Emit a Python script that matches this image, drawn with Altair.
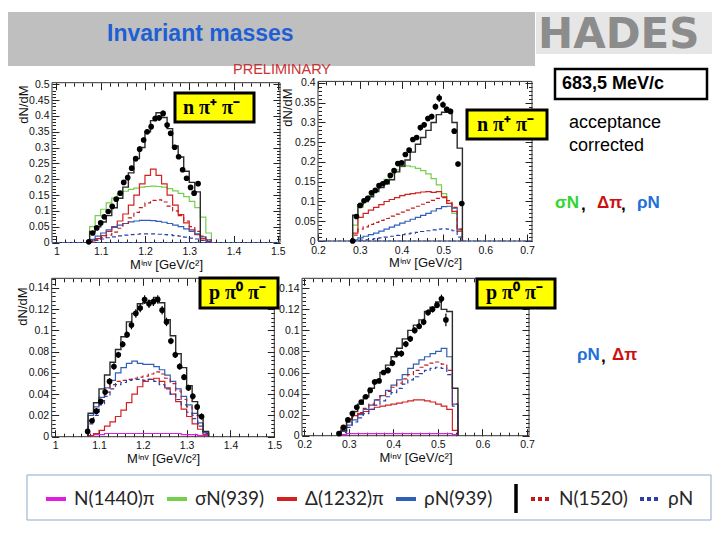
import altair as alt
import pandas as pd

W, H = 704, 524
F = "Liberation Sans"

# ---------------- series names / colours ----------------
SOLID = ["N(1440)π", "σN(939)", "Δ(1232)π", "ρN(939)"]
SOLID_COLORS = ["#e01ee0", "#74cf4c", "#d42020", "#2f5fb8"]
DASHED = ["N(1520)", "ρN"]
DASHED_COLORS = ["#c41a1a", "#2a3fa8"]

# ---------------- panel 1 : n pi+ pi-, M(n pi) ----------------
p1_start, p1_width = 1.075, 0.0125
p1_sigma = [0.050, 0.085, 0.105, 0.125, 0.140, 0.152, 0.162, 0.168, 0.172, 0.175, 0.177,
            0.178, 0.177, 0.175, 0.170, 0.163, 0.155, 0.145, 0.130, 0.110, 0.080, 0.030]
p1_delta = [0.005, 0.012, 0.022, 0.035, 0.050, 0.068, 0.090, 0.118, 0.150, 0.185, 0.212,
            0.232, 0.212, 0.185, 0.150, 0.118, 0.088, 0.062, 0.040, 0.025, 0.012, 0.004]
p1_n1520 = [0.003, 0.008, 0.015, 0.023, 0.033, 0.045, 0.060, 0.078, 0.095, 0.110, 0.125,
            0.133, 0.135, 0.128, 0.115, 0.100, 0.085, 0.068, 0.050, 0.035, 0.020, 0.008]
p1_rho939 = [0.010, 0.020, 0.030, 0.040, 0.048, 0.055, 0.060, 0.065, 0.068, 0.070, 0.070,
             0.069, 0.067, 0.064, 0.060, 0.055, 0.050, 0.043, 0.035, 0.027, 0.018, 0.008]
p1_rho = [0.003, 0.007, 0.011, 0.015, 0.018, 0.021, 0.023, 0.025, 0.026, 0.027, 0.027,
          0.027, 0.026, 0.025, 0.024, 0.022, 0.020, 0.017, 0.014, 0.011, 0.007, 0.003]
p1_total = [0.035, 0.050, 0.065, 0.085, 0.110, 0.140, 0.175, 0.220, 0.265, 0.300, 0.350,
            0.385, 0.410, 0.395, 0.360, 0.305, 0.270, 0.225, 0.190, 0.160]
p1_x = [1.073, 1.082, 1.091, 1.100, 1.108, 1.117, 1.126, 1.135, 1.144, 1.152, 1.161, 1.170,
        1.179, 1.188, 1.197, 1.205, 1.214, 1.223, 1.232, 1.241, 1.250, 1.258, 1.267, 1.276,
        1.285, 1.294, 1.303, 1.311, 1.320]
p1_y = [0.002, 0.030, 0.046, 0.062, 0.081, 0.098, 0.114, 0.137, 0.156, 0.190, 0.205, 0.235,
        0.265, 0.295, 0.324, 0.350, 0.366, 0.392, 0.394, 0.408, 0.371, 0.345, 0.301, 0.271,
        0.230, 0.203, 0.174, 0.156, 0.186]
p1_err = [0.002, 0.004, 0.004, 0.005, 0.005, 0.005, 0.006, 0.006, 0.006, 0.007, 0.007, 0.007,
          0.008, 0.008, 0.008, 0.008, 0.009, 0.009, 0.009, 0.009, 0.008, 0.008, 0.008, 0.007,
          0.007, 0.007, 0.006, 0.006, 0.007]

# ---------------- panel 2 : n pi+ pi-, M(pi+ pi-) ----------------
p2_start, p2_width = 0.283, 0.0125
p2_sigma = [0.040, 0.085, 0.100, 0.115, 0.130, 0.143, 0.156, 0.168, 0.180, 0.188, 0.190,
            0.188, 0.184, 0.178, 0.170, 0.158, 0.142, 0.120, 0.095, 0.070, 0.025]
p2_delta = [0.020, 0.060, 0.070, 0.078, 0.085, 0.092, 0.100, 0.105, 0.110, 0.115, 0.118,
            0.120, 0.122, 0.124, 0.125, 0.123, 0.125, 0.112, 0.095, 0.075, 0.025]
p2_n1520 = [0.015, 0.030, 0.036, 0.042, 0.047, 0.052, 0.057, 0.063, 0.068, 0.073, 0.078,
            0.083, 0.088, 0.093, 0.098, 0.103, 0.108, 0.110, 0.102, 0.085, 0.030]
p2_rho939 = [0.003, 0.008, 0.012, 0.016, 0.020, 0.025, 0.030, 0.035, 0.040, 0.045, 0.050,
             0.055, 0.060, 0.065, 0.070, 0.076, 0.082, 0.087, 0.088, 0.083, 0.030]
p2_rho = [0.001, 0.002, 0.003, 0.004, 0.006, 0.008, 0.010, 0.012, 0.014, 0.016, 0.018,
          0.020, 0.022, 0.024, 0.026, 0.028, 0.030, 0.031, 0.030, 0.026, 0.010]
p2_total = [0.065, 0.092, 0.100, 0.112, 0.125, 0.135, 0.145, 0.155, 0.175, 0.190, 0.205,
            0.225, 0.245, 0.262, 0.280, 0.300, 0.320, 0.326, 0.326, 0.300, 0.235]
p2_x = [0.283, 0.292, 0.301, 0.310, 0.319, 0.328, 0.337, 0.346, 0.355, 0.364, 0.373, 0.382,
        0.391, 0.400, 0.409, 0.418, 0.427, 0.436, 0.445, 0.454, 0.463, 0.472, 0.481, 0.490,
        0.499, 0.508, 0.517, 0.526, 0.535, 0.544]
p2_y = [0.000, 0.062, 0.090, 0.102, 0.108, 0.122, 0.128, 0.140, 0.145, 0.150, 0.166, 0.178,
        0.196, 0.198, 0.219, 0.230, 0.257, 0.262, 0.287, 0.294, 0.310, 0.315, 0.340, 0.362,
        0.345, 0.333, 0.328, 0.278, 0.195, 0.095]
p2_err = [0.002, 0.004, 0.005, 0.005, 0.005, 0.005, 0.005, 0.005, 0.005, 0.005, 0.005, 0.006,
          0.006, 0.006, 0.006, 0.006, 0.006, 0.006, 0.007, 0.007, 0.007, 0.007, 0.008, 0.010,
          0.008, 0.007, 0.007, 0.007, 0.006, 0.006]

# ---------------- panel 3 : p pi0 pi-, M(p pi0) ----------------
p3_start, p3_width = 1.075, 0.0125
p3_n1440 = [0.001, 0.002, 0.002, 0.003, 0.003, 0.003, 0.003, 0.003, 0.003, 0.003, 0.003,
            0.003, 0.003, 0.003, 0.003, 0.003, 0.003, 0.002, 0.002, 0.002, 0.001, 0.001]
p3_delta = [0.001, 0.003, 0.006, 0.010, 0.014, 0.019, 0.025, 0.032, 0.040, 0.047, 0.052,
            0.054, 0.055, 0.052, 0.046, 0.040, 0.033, 0.026, 0.019, 0.012, 0.007, 0.002]
p3_rho939 = [0.020, 0.028, 0.037, 0.046, 0.053, 0.060, 0.065, 0.069, 0.071, 0.069, 0.068,
             0.068, 0.066, 0.063, 0.058, 0.052, 0.045, 0.038, 0.030, 0.022, 0.013, 0.004]
p3_n1520 = [0.015, 0.024, 0.034, 0.042, 0.049, 0.052, 0.053, 0.054, 0.055, 0.056, 0.057,
            0.059, 0.061, 0.059, 0.055, 0.050, 0.043, 0.035, 0.028, 0.020, 0.012, 0.003]
p3_rho = [0.012, 0.020, 0.030, 0.038, 0.045, 0.049, 0.051, 0.053, 0.054, 0.054, 0.053,
          0.054, 0.052, 0.049, 0.045, 0.040, 0.035, 0.030, 0.023, 0.017, 0.010, 0.003]
p3_total = [0.022, 0.032, 0.045, 0.058, 0.070, 0.082, 0.094, 0.108, 0.116, 0.125, 0.126,
            0.128, 0.131, 0.126, 0.110, 0.095, 0.078, 0.065, 0.048, 0.033, 0.020, 0.005]
p3_x = [1.074, 1.084, 1.094, 1.104, 1.114, 1.124, 1.134, 1.144, 1.154, 1.164, 1.174, 1.184,
        1.194, 1.204, 1.214, 1.224, 1.234, 1.244, 1.254, 1.264, 1.274, 1.284, 1.294, 1.304,
        1.314, 1.324, 1.334]
p3_y = [0.005, 0.015, 0.024, 0.033, 0.042, 0.052, 0.066, 0.077, 0.087, 0.096, 0.105, 0.116,
        0.121, 0.129, 0.125, 0.127, 0.129, 0.119, 0.108, 0.090, 0.077, 0.066, 0.056, 0.046,
        0.038, 0.028, 0.019]
p3_err = [0.002, 0.002, 0.003, 0.003, 0.003, 0.003, 0.003, 0.003, 0.003, 0.003, 0.004, 0.004,
          0.004, 0.004, 0.004, 0.004, 0.004, 0.004, 0.004, 0.003, 0.003, 0.003, 0.003, 0.003,
          0.003, 0.003, 0.003]

# ---------------- panel 4 : p pi0 pi-, M(pi0 pi-) ----------------
p4_start, p4_width = 0.2825, 0.0125
p4_n1440 = [0.001, 0.002, 0.002, 0.002, 0.002, 0.002, 0.002, 0.002, 0.002, 0.002, 0.002,
            0.002, 0.002, 0.002, 0.002, 0.002, 0.002, 0.002, 0.002, 0.002, 0.001]
p4_delta = [0.008, 0.016, 0.019, 0.021, 0.023, 0.025, 0.027, 0.028, 0.029, 0.030, 0.031,
            0.032, 0.033, 0.034, 0.034, 0.033, 0.032, 0.030, 0.028, 0.025, 0.005]
p4_rho939 = [0.004, 0.010, 0.015, 0.020, 0.025, 0.029, 0.034, 0.038, 0.043, 0.048, 0.053,
             0.058, 0.064, 0.068, 0.072, 0.075, 0.078, 0.080, 0.083, 0.075, 0.030]
p4_n1520 = [0.006, 0.013, 0.018, 0.022, 0.026, 0.030, 0.034, 0.038, 0.042, 0.046, 0.050,
            0.054, 0.058, 0.062, 0.065, 0.067, 0.069, 0.070, 0.068, 0.062, 0.030]
p4_rho = [0.003, 0.008, 0.013, 0.017, 0.021, 0.025, 0.029, 0.033, 0.037, 0.041, 0.045,
          0.049, 0.053, 0.056, 0.059, 0.062, 0.064, 0.065, 0.064, 0.058, 0.028]
p4_total = [0.005, 0.015, 0.023, 0.030, 0.037, 0.045, 0.053, 0.060, 0.067, 0.075, 0.083,
            0.092, 0.100, 0.105, 0.110, 0.118, 0.122, 0.127, 0.120, 0.118, 0.045]
p4_x = [0.278, 0.288, 0.298, 0.308, 0.318, 0.328, 0.338, 0.348, 0.358, 0.368, 0.378, 0.388,
        0.398, 0.408, 0.418, 0.428, 0.438, 0.448, 0.458, 0.468, 0.478, 0.488, 0.498, 0.508,
        0.518]
p4_y = [0.002, 0.008, 0.015, 0.021, 0.027, 0.032, 0.037, 0.043, 0.051, 0.052, 0.060, 0.062,
        0.069, 0.078, 0.078, 0.087, 0.092, 0.100, 0.104, 0.108, 0.117, 0.120, 0.124, 0.130,
        0.110]
p4_err = [0.001, 0.002, 0.002, 0.002, 0.002, 0.002, 0.002, 0.002, 0.002, 0.002, 0.002, 0.003,
          0.003, 0.003, 0.003, 0.003, 0.003, 0.003, 0.003, 0.003, 0.003, 0.003, 0.003, 0.004,
          0.006]

# ---------------- helpers ----------------
one = pd.DataFrame({"k": [0]})


def step_rows(vals, start, width, series):
    n = len(vals)
    rows = [{"x": start, "y": 0.0, "i": 0, "s": series}]
    for k, v in enumerate(vals):
        rows.append({"x": start + k * width, "y": v, "i": k + 1, "s": series})
    rows.append({"x": start + n * width, "y": 0.0, "i": n + 1, "s": series})
    return rows


def tick_values(lo, hi, step):
    n = int(round((hi - lo) / step))
    return [round(lo + k * step, 5) for k in range(n + 1)]


leg_common = dict(orient="none", direction="horizontal", symbolType="stroke",
                  symbolStrokeWidth=4, symbolSize=400, labelFont="Lato", labelFontSize=19,
                  labelColor="#262626", columnPadding=4, labelOffset=6, padding=0,
                  legendY=479)
leg_solid = alt.Legend(title=None, legendX=36, **leg_common)
leg_dash = alt.Legend(title=None, legendX=521, symbolDash=[4, 3], **leg_common)
color_scale = alt.Scale(domain=SOLID, range=SOLID_COLORS)
stroke_scale = alt.Scale(domain=DASHED, range=DASHED_COLORS)


def tick_axis(orient, offset, values, size):
    return alt.Axis(orient=orient, offset=offset, values=values, labels=False, domain=False,
                    grid=False, ticks=True, tickSize=size, tickColor="#222", tickWidth=1,
                    title="")


def panel(solid, dashed, total, start, width, px, py, pe, xdom, xr, ydom, yr, xmaj, ymaj,
          xminor, yminor, xtitle, ytitle, ytx, yty, zero_line):
    xs = alt.Scale(domain=xdom, range=xr, nice=False, zero=False)
    ys = alt.Scale(domain=ydom, range=yr, nice=False, zero=False)
    ax_common = dict(grid=False, domain=False, ticks=False,
                     labelFont=F, labelFontSize=10.5, labelColor="#111",
                     labelFlush=False, labelOverlap=False, titleFont=F, titleFontSize=13,
                     titleFontWeight="normal", titleColor="#111")
    xax = alt.Axis(orient="bottom", offset=yr[0] - H, values=xmaj, format=".1~f",
                   title=xtitle, titlePadding=1, labelPadding=4, **ax_common)
    if ytitle:
        yax = alt.Axis(orient="left", offset=-xr[0], values=ymaj, format=".2~f",
                       title=ytitle, titleX=ytx, titleY=yty, titleAlign="center",
                       titleBaseline="middle", titleAngle=-90, labelPadding=3, **ax_common)
    else:
        yax = alt.Axis(orient="left", offset=-xr[0], values=ymaj, format=".2~f",
                       title="", labelPadding=3, **ax_common)

    def X(f, ax=None):
        return alt.X(f, type="quantitative", scale=xs, axis=ax)

    def Y(f, ax=None):
        return alt.Y(f, type="quantitative", scale=ys, axis=ax)

    sol_rows, dash_rows = [], []
    for name, vals in solid:
        sol_rows += step_rows(vals, start, width, name)
    for name, vals in dashed:
        dash_rows += step_rows(vals, start, width, name)
    tot_df = pd.DataFrame(step_rows(total, start, width, "total"))
    pts = pd.DataFrame({"x": px, "y": py,
                        "lo": [a - b for a, b in zip(py, pe)],
                        "hi": [a + b for a, b in zip(py, pe)]})
    frame_df = pd.DataFrame({"x0": [xdom[0]], "x1": [xdom[1]], "y0": [ydom[0]], "y1": [ydom[1]]})

    layers = []
    layers.append(alt.Chart(frame_df).mark_rect(fill="white", fillOpacity=0, stroke="#333",
                                                strokeWidth=1).encode(
        x=X("x0:Q", xax), x2="x1:Q", y=Y("y0:Q", yax), y2="y1:Q"))
    # inward ROOT-style ticks on all four frame edges (major and minor)
    inward = [
        (tick_axis("top", -yr[0], xmaj, 7), tick_axis("right", xr[0] - W, ymaj, 7)),
        (tick_axis("top", -yr[0], xminor, 3.5), tick_axis("right", xr[0] - W, yminor, 3.5)),
        (tick_axis("bottom", yr[1] - H, xmaj, 7), tick_axis("left", -xr[1], ymaj, 7)),
        (tick_axis("bottom", yr[1] - H, xminor, 3.5), tick_axis("left", -xr[1], yminor, 3.5)),
    ]
    for axx, axy in inward:
        layers.append(alt.Chart(frame_df).mark_point(opacity=0, size=1).encode(
            x=X("x0:Q", axx), y=Y("y0:Q", axy)))
    if zero_line:
        layers.append(alt.Chart(frame_df).mark_rule(color="#3a5cc0", strokeDash=[3, 2],
                                                    strokeWidth=1).encode(
            x=X("x0:Q"), x2="x1:Q", y=Y("y0:Q")))
    layers.append(alt.Chart(pd.DataFrame(sol_rows)).mark_line(
        interpolate="step-after", strokeWidth=1.2).encode(
        x=X("x:Q"), y=Y("y:Q"), order="i:Q", detail="s:N",
        color=alt.Color("s:N", scale=color_scale, legend=leg_solid)))
    layers.append(alt.Chart(pd.DataFrame(dash_rows)).mark_line(
        interpolate="step-after", strokeWidth=1.2, strokeDash=[4, 3]).encode(
        x=X("x:Q"), y=Y("y:Q"), order="i:Q", detail="s:N",
        stroke=alt.Stroke("s:N", scale=stroke_scale, legend=leg_dash)))
    layers.append(alt.Chart(tot_df).mark_line(interpolate="step-after", color="#2b2b2b",
                                              strokeWidth=1.4).encode(
        x=X("x:Q"), y=Y("y:Q"), order="i:Q"))
    layers.append(alt.Chart(pts).mark_rule(color="black", strokeWidth=1.2).encode(
        x=X("x:Q"), y=Y("lo:Q"), y2="hi:Q"))
    layers.append(alt.Chart(pts).mark_circle(size=32, color="black", opacity=1).encode(
        x=X("x:Q"), y=Y("y:Q")))
    return alt.layer(*layers).resolve_axis(x="independent", y="independent")


XT = "Mⁱⁿᵛ [GeV/c²]"
X1_MAJ = tick_values(1.0, 1.5, 0.1)
X1_MIN = tick_values(1.0, 1.5, 0.02)
X2_MAJ = tick_values(0.2, 0.7, 0.1)
X2_MIN = tick_values(0.2, 0.7, 0.02)

P1 = panel([("σN(939)", p1_sigma), ("Δ(1232)π", p1_delta), ("ρN(939)", p1_rho939)],
           [("N(1520)", p1_n1520), ("ρN", p1_rho)], p1_total, p1_start, p1_width,
           p1_x, p1_y, p1_err, [0.99, 1.505], [44, 272], [0, 0.505], [234.5, 74.7],
           X1_MAJ, tick_values(0, 0.5, 0.05), X1_MIN, tick_values(0, 0.5, 0.01),
           XT, "dN/dM", -29, 96, True)
P2 = panel([("σN(939)", p2_sigma), ("Δ(1232)π", p2_delta), ("ρN(939)", p2_rho939)],
           [("N(1520)", p2_n1520), ("ρN", p2_rho)], p2_total, p2_start, p2_width,
           p2_x, p2_y, p2_err, [0.2, 0.712], [310, 524], [0, 0.404], [233, 73.4],
           X2_MAJ, tick_values(0, 0.4, 0.05), X2_MIN, tick_values(0, 0.4, 0.01),
           XT, "dN/dM", -31, 99, True)
P3 = panel([("N(1440)π", p3_n1440), ("Δ(1232)π", p3_delta), ("ρN(939)", p3_rho939)],
           [("N(1520)", p3_n1520), ("ρN", p3_rho)], p3_total, p3_start, p3_width,
           p3_x, p3_y, p3_err, [0.992, 1.5], [43.7, 266.3], [0, 0.149], [428.7, 270.3],
           X1_MAJ, tick_values(0, 0.14, 0.02), X1_MIN, tick_values(0, 0.148, 0.004),
           XT, "dN/dM", -29, 298, False)
P4 = panel([("N(1440)π", p4_n1440), ("Δ(1232)π", p4_delta), ("ρN(939)", p4_rho939)],
           [("N(1520)", p4_n1520), ("ρN", p4_rho)], p4_total, p4_start, p4_width,
           p4_x, p4_y, p4_err, [0.195, 0.7045], [294, 521], [0, 0.1495], [427.7, 270.3],
           X2_MAJ, tick_values(0, 0.14, 0.02), X2_MIN, tick_values(0, 0.148, 0.004),
           XT, "", 0, 0, False)


# ---------------- annotations ----------------
def rect(x1, x2, y1, y2, fill, stroke="#000", sw=0, fo=1):
    return alt.Chart(one).mark_rect(fill=fill, fillOpacity=fo, stroke=stroke,
                                    strokeWidth=sw).encode(
        x=alt.value(x1), x2=alt.value(x2), y=alt.value(y1), y2=alt.value(y2))


def txt(s, x, y, size, color="#000", weight="normal", font=F, align="left"):
    return alt.Chart(one).mark_text(text=s, fontSize=size, color=color, fontWeight=weight,
                                    font=font, align=align, baseline="middle").encode(
        x=alt.value(x), y=alt.value(y))


ann_back = [
    rect(0, 527, 4, 58, "#bfbfbf"),
    rect(528, 704, 4, 46, "#e6e6e6"),
    txt("HADES", 530, 27, 42, "#8c8c8c", "bold", "DejaVu Sans"),
    txt("Invariant masses", 99, 26, 23, "#1e5fd4", "bold"),
    txt("PRELIMINARY", 225, 62, 14.5, "#cc3333"),
]
ann_front = [
    rect(167, 246, 85, 114, "#ffff00", "#000", 3),
    txt("n π⁺ π⁻", 175, 100, 20, "#000", "bold", "Liberation Serif"),
    rect(459, 539, 102, 131, "#ffff00", "#000", 3),
    txt("n π⁺ π⁻", 469, 117, 20, "#000", "bold", "Liberation Serif"),
    rect(192, 270, 270, 300, "#ffff00", "#000", 3),
    txt("p π⁰ π⁻", 201, 285, 20, "#000", "bold", "Liberation Serif"),
    rect(469, 547, 271, 300, "#ffff00", "#000", 3),
    txt("p π⁰ π⁻", 478, 285, 20, "#000", "bold", "Liberation Serif"),
    rect(547, 699, 61, 91, "white", "#000", 2.5),
    txt("683,5 MeV/c", 554, 76, 18, "#000", "bold"),
    txt("acceptance", 561, 115, 18),
    txt("corrected", 561, 138, 18),
    txt("σN", 547, 195, 17, "#2ed62e", "bold"),
    txt(",", 573, 197, 17, "#000", "bold"),
    txt("Δπ", 589, 195, 17, "#cc1111", "bold"),
    txt(",", 613, 197, 17, "#000", "bold"),
    txt("ρN", 629, 195, 17, "#1f6fd6", "bold"),
    txt("ρN", 569, 347, 17, "#1f6fd6", "bold"),
    txt(",", 593, 349, 17, "#000", "bold"),
    txt("Δπ", 604, 347, 17, "#cc1111", "bold"),
    rect(19, 703, 467, 512, "white", "#8ea9c8", 1, 0),
    alt.Chart(one).mark_rule(color="black", strokeWidth=3.5).encode(
        x=alt.value(508), y=alt.value(476), y2=alt.value(505)),
]

chart = alt.layer(*ann_back, P1, P2, P3, P4, *ann_front).resolve_scale(
    x="independent", y="independent").resolve_axis(
    x="independent", y="independent").properties(
    width=W, height=H, padding=0,
    autosize=alt.AutoSizeParams(type="none")).configure_view(strokeWidth=0)

chart.save("out.html", embed_options={"renderer": "svg", "actions": False})
